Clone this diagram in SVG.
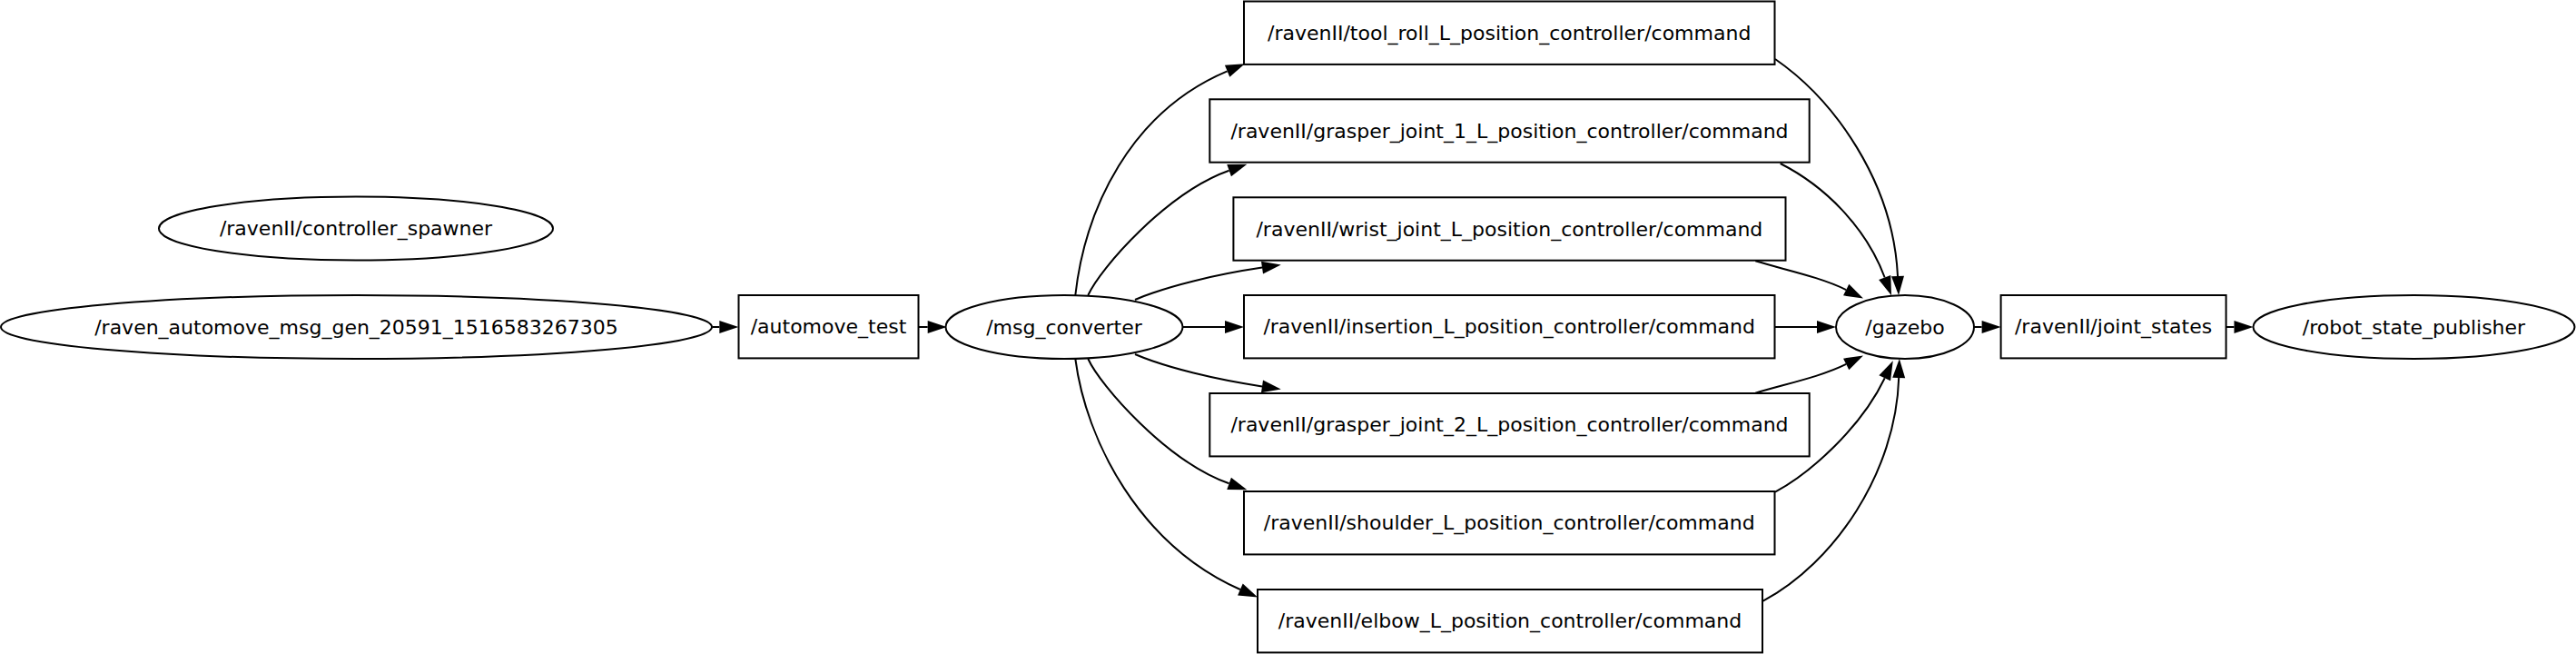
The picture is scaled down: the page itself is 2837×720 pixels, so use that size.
<svg xmlns="http://www.w3.org/2000/svg" width="2837" height="720" viewBox="0 0 2837 720">
<style>
.n{fill:#fff;stroke:#000;stroke-width:2}
.t{font-family:"DejaVu Sans",Verdana,sans-serif;font-size:22px;text-anchor:middle;fill:#000}
.e{fill:none;stroke:#000;stroke-width:2;marker-end:url(#ah)}
</style>
<defs>
<marker id="ah" markerUnits="userSpaceOnUse" markerWidth="30" markerHeight="30" refX="0" refY="0" orient="auto" overflow="visible">
<path d="M0,-7 L21,0 L0,7 z" fill="#000"/>
</marker>
</defs>
<rect width="2837" height="720" fill="#fff"/>
<g id="edges">
<path class="e" d="M784.5,360 L792.3,360"/>
<path class="e" d="M1011.7,360 L1021.7,360"/>
<path class="e" d="M1184.3,325 C1195,230 1245,123 1351.6,78.3"/>
<path class="e" d="M1198.3,325 C1212,295 1285,212 1353.6,187.7"/>
<path class="e" d="M1250,330 C1285,315 1340,302 1390,294.6"/>
<path class="e" d="M1302.7,360 L1349,360"/>
<path class="e" d="M1250,390 C1285,405 1340,418 1390,425.4"/>
<path class="e" d="M1198.3,395 C1212,425 1285,508 1353.6,532.3"/>
<path class="e" d="M1184.3,395 C1196,485 1255,600 1365.9,649"/>
<path class="e" d="M1955,65 C2020,110 2085,200 2090,304"/>
<path class="e" d="M1960.7,180 C2010,205 2055,250 2075.7,305.5"/>
<path class="e" d="M1933.3,287.3 C1965,297 2005,305 2033.2,319.1"/>
<path class="e" d="M1954.5,360 L2001,360"/>
<path class="e" d="M1933.3,432.7 C1965,423 2005,415 2033.2,400.9"/>
<path class="e" d="M1955,541.7 C1995,520 2050,470 2075.7,416.2"/>
<path class="e" d="M1941.7,661.7 C2020,620 2088,520 2091.2,416"/>
<path class="e" d="M2174,360 L2182.6,360"/>
<path class="e" d="M2451.6,360 L2460.5,360"/>
</g>
<g id="controller_spawner">
<ellipse class="n" cx="392" cy="251.5" rx="217" ry="35"/>
<text class="t" x="392" y="259.2">/ravenII/controller_spawner</text>
</g>
<g id="raven_automove">
<ellipse class="n" cx="392.5" cy="360" rx="391.5" ry="35"/>
<text class="t" x="392.5" y="367.7">/raven_automove_msg_gen_20591_1516583267305</text>
</g>
<g id="automove_test">
<rect class="n" x="813.5" y="325" width="198" height="69.4"/>
<text class="t" x="912.5" y="367.4">/automove_test</text>
</g>
<g id="msg_converter">
<ellipse class="n" cx="1172" cy="360" rx="130.5" ry="35"/>
<text class="t" x="1172" y="367.7">/msg_converter</text>
</g>
<g id="tool_roll">
<rect class="n" x="1370" y="1.5" width="584.5" height="69.4"/>
<text class="t" x="1662.2" y="43.9">/ravenII/tool_roll_L_position_controller/command</text>
</g>
<g id="grasper_joint_1">
<rect class="n" x="1332.3" y="109.3" width="660.4" height="69.4"/>
<text class="t" x="1662.5" y="151.7">/ravenII/grasper_joint_1_L_position_controller/command</text>
</g>
<g id="wrist_joint">
<rect class="n" x="1358.4" y="217.3" width="608.1" height="69.4"/>
<text class="t" x="1662.4" y="259.7">/ravenII/wrist_joint_L_position_controller/command</text>
</g>
<g id="insertion">
<rect class="n" x="1370" y="325" width="584.5" height="69.4"/>
<text class="t" x="1662.2" y="367.4">/ravenII/insertion_L_position_controller/command</text>
</g>
<g id="grasper_joint_2">
<rect class="n" x="1332.3" y="433" width="660.4" height="69.4"/>
<text class="t" x="1662.5" y="475.4">/ravenII/grasper_joint_2_L_position_controller/command</text>
</g>
<g id="shoulder">
<rect class="n" x="1370" y="541" width="584.5" height="69.4"/>
<text class="t" x="1662.2" y="583.4">/ravenII/shoulder_L_position_controller/command</text>
</g>
<g id="elbow">
<rect class="n" x="1385" y="649" width="556" height="69.4"/>
<text class="t" x="1663" y="691.4">/ravenII/elbow_L_position_controller/command</text>
</g>
<g id="gazebo">
<ellipse class="n" cx="2098" cy="360" rx="76" ry="35"/>
<text class="t" x="2098" y="367.7">/gazebo</text>
</g>
<g id="joint_states">
<rect class="n" x="2203.6" y="325" width="248" height="69.4"/>
<text class="t" x="2327.6" y="367.4">/ravenII/joint_states</text>
</g>
<g id="robot_state_publisher">
<ellipse class="n" cx="2658.5" cy="360" rx="177" ry="35"/>
<text class="t" x="2658.5" y="367.7">/robot_state_publisher</text>
</g>
</svg>
